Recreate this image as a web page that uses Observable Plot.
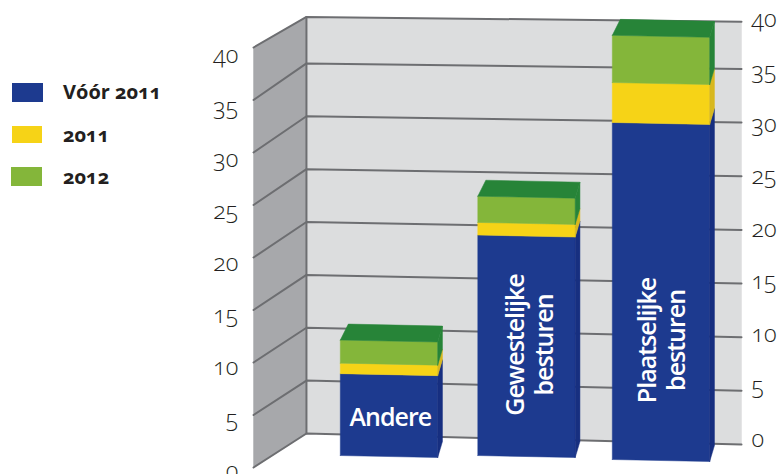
<!DOCTYPE html>
<html>
<head>
<meta charset="utf-8">
<script src="https://cdn.jsdelivr.net/npm/d3@7"></script>
<script src="https://cdn.jsdelivr.net/npm/@observablehq/plot@0.6"></script>
<style>
html,body{margin:0;padding:0;background:#fff;}
#wrap{position:relative;width:778px;height:474px;overflow:hidden;}
#legend{position:absolute;left:0;top:0;font-family:"Open Sans",sans-serif;font-weight:700;color:#231f20;font-size:20px;font-feature-settings:"onum" 1;font-variant-numeric:oldstyle-nums;}
#legend .sw{position:absolute;}
#legend .tx{position:absolute;left:63px;line-height:20px;white-space:nowrap;}
svg text{font-variant-numeric:oldstyle-nums;font-feature-settings:"onum" 1;}
</style>
</head>
<body>
<div id="wrap"><div id="legend"></div></div>
<script>
// Data
const categories = ["Andere", "Gewestelijke", "Plaatselijke"];
const barLabels = ["Andere", "Gewestelijke\nbesturen", "Plaatselijke\nbesturen"];
const before2011 = [7.8, 21, 32.1];
const in2011 = [1, 1.2, 3.8];
const in2012 = [2.2, 2.5, 4.5];
const ticks = [0, 5, 10, 15, 20, 25, 30, 35, 40];
const seriesNames = ["Vóór 2011", "2011", "2012"];

// Styles
const frontColors = ["#1d3a8f", "#f6d317", "#84b63a"];
const sideColors = ["#172f80", "#d8b81e", "#278438"];
const topColor = "#278438";
const gridColor = "#6d6e71";
const ink = "#231f20";
const font = "'Open Sans', sans-serif";

// Pseudo-3D layout, in scale units (category index across, value up)
const catPos = [0, 1.011, 2];
const floorLift = [1.14, 1.14, 0.76];
const labelX = [0.01, 1.03, 2.004];
const labelAt = [4.7, 11.67, 12.1];
const halfBar = 0.358, barTilt = -0.19;
const backL = 0.059, backR = 0.035, backUp = 1.52;
const wallFront = -0.996, wallBack = -0.607, wallEnd = 2.592;
const wallTop = 39.4;
function backV(v, u) {
  const t = (u - wallBack) / (wallEnd - wallBack);
  return v * (1.007 + 0.015 * t) + 3.24 - 1.05 * t;
}

const marks = [];
const poly = (pts, fill) => marks.push(Plot.line(pts, {x: "0", y: "1", fill, stroke: fill, strokeWidth: 0.5}));

// Walls
poly([[wallFront, 0], [wallBack, backV(0, wallBack)], [wallBack, backV(wallTop, wallBack)], [wallFront, 40], [wallFront, 0]], "#a7a8ab");
poly([[wallBack, backV(0, wallBack)], [wallEnd, backV(0, wallEnd)], [wallEnd, backV(wallTop, wallEnd)], [wallBack, backV(wallTop, wallBack)], [wallBack, backV(0, wallBack)]], "#dcddde");

// Grid lines: along the side wall, then the back wall
for (const t of ticks) {
  const b = t === 40 ? wallTop : t;
  marks.push(Plot.line([[wallFront, t], [wallBack, backV(b, wallBack)], [wallEnd, backV(b, wallEnd)]],
    {x: "0", y: "1", stroke: gridColor, strokeWidth: 2, strokeLinejoin: "miter"}));
}
marks.push(Plot.line([[wallBack, backV(0, wallBack)], [wallBack, backV(wallTop, wallBack)]],
  {x: "0", y: "1", stroke: gridColor, strokeWidth: 2}));

// Bars
categories.forEach((c, i) => {
  const l = catPos[i] - halfBar, r = catPos[i] + halfBar;
  const stack = [before2011[i], in2011[i], in2012[i]];
  let base = floorLift[i];
  stack.forEach((h, s) => {
    const top = base + h;
    poly([[l, base], [r, base + barTilt], [r, top + barTilt], [l, top], [l, base]], frontColors[s]);
    poly([[r, base + barTilt], [r + backR, base + barTilt + backUp], [r + backR, top + barTilt + backUp], [r, top + barTilt], [r, base + barTilt]], sideColors[s]);
    base = top;
  });
  poly([[l, base], [r, base + barTilt], [r + backR, base + barTilt + backUp], [l + backL, base + backUp], [l, base]], topColor);
});

// Tick labels, both sides
const leftLabelX = -1.107, rightLabelX = 2.665, rightLift = 2.43;
marks.push(Plot.text(ticks, {x: () => leftLabelX, y: d => d * 0.99 - 0.857, text: d => String(d), textAnchor: "end", dy: -5,
  fontSize: 23.5, fill: ink, fontFamily: font, fontWeight: 300}));
marks.push(Plot.text(ticks, {x: () => rightLabelX, y: d => d + rightLift, text: d => String(d), textAnchor: "start", dy: -3,
  fontSize: 23.5, fill: ink, fontFamily: font, fontWeight: 300}));

// Bar labels
marks.push(Plot.text([0], {x: () => labelX[0], y: () => labelAt[0], text: () => barLabels[0],
  fontSize: 25, fontWeight: 600, fill: "#fff", fontFamily: font}));
[1, 2].forEach(i => marks.push(Plot.text([i], {x: () => labelX[i], y: () => labelAt[i], text: () => barLabels[i], rotate: -90, lineHeight: 1.15,
  fontSize: 25, fontWeight: 600, fill: "#fff", fontFamily: font})));

const chart = Plot.plot({
  width: 778, height: 474,
  marginTop: 0, marginRight: 0, marginBottom: 0, marginLeft: 0,
  x: {domain: [0, 2], range: [388.5, 660.5], axis: null},
  y: {domain: [0, 40], range: [467, 47], axis: null},
  style: {background: "transparent", overflow: "visible"},
  marks
});
chart.querySelectorAll("text").forEach(t => {
  if (t.closest("[fill='#fff']") || t.getAttribute("fill") === "#fff") t.style.letterSpacing = "-1px";
});
document.getElementById("wrap").prepend(chart);

// Legend
const legend = d3.select("#legend");
const swatches = [[12, 83, 31, 19], [12, 126, 30, 17], [11, 167, 31, 19]];
const textTops = [82, 125, 167];
seriesNames.forEach((n, i) => {
  const [l, t, w, h] = swatches[i];
  legend.append("div").attr("class", "sw").style("left", l + "px").style("top", t + "px").style("width", w + "px").style("height", h + "px").style("background", frontColors[i]);
  legend.append("div").attr("class", "tx").style("top", textTops[i] + "px").text(n);
});
</script>
</body>
</html>
